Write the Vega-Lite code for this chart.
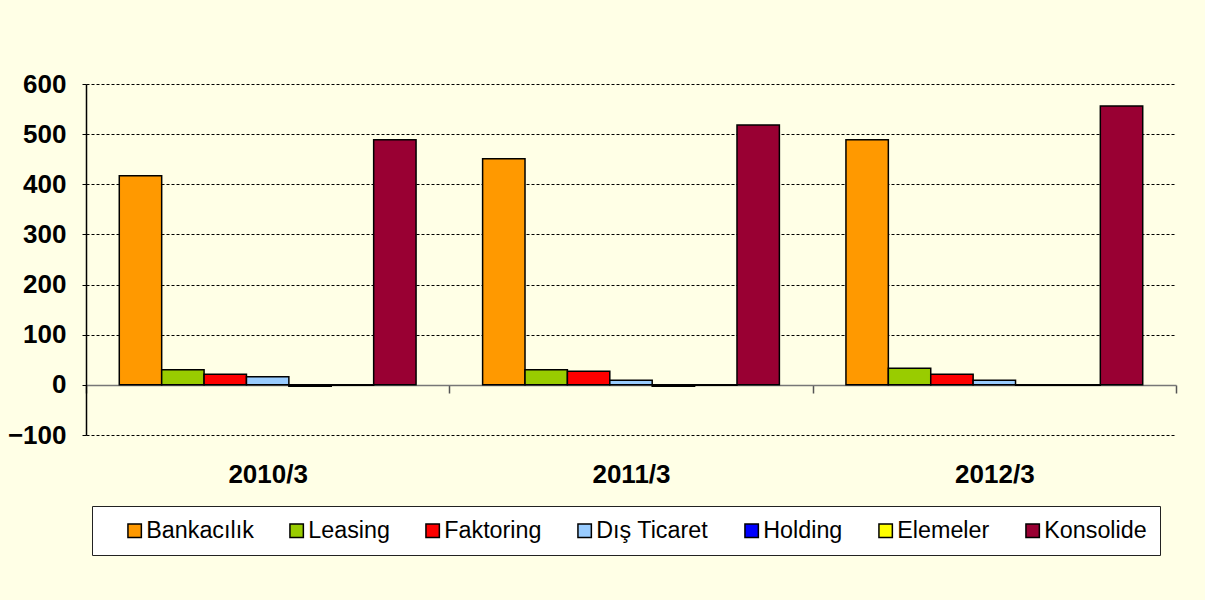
{
  "$schema": "https://vega.github.io/schema/vega-lite/v6.json",
  "width": 1090,
  "height": 351,
  "autosize": {"type": "none"},
  "padding": {"left": 86, "top": 84, "right": 29, "bottom": 165},
  "background": "#FFFFE6",
  "config": {
    "view": {"stroke": null},
    "font": "Liberation Sans"
  },
  "data": {
    "values": [
      {"period": "2010/3", "series": "Bankacılık", "value": 417},
      {"period": "2010/3", "series": "Leasing", "value": 30},
      {"period": "2010/3", "series": "Faktoring", "value": 21},
      {"period": "2010/3", "series": "Dış Ticaret", "value": 16},
      {"period": "2010/3", "series": "Holding", "value": -3},
      {"period": "2010/3", "series": "Elemeler", "value": -1},
      {"period": "2010/3", "series": "Konsolide", "value": 489},
      {"period": "2011/3", "series": "Bankacılık", "value": 451},
      {"period": "2011/3", "series": "Leasing", "value": 30},
      {"period": "2011/3", "series": "Faktoring", "value": 27},
      {"period": "2011/3", "series": "Dış Ticaret", "value": 9},
      {"period": "2011/3", "series": "Holding", "value": -3},
      {"period": "2011/3", "series": "Elemeler", "value": -1},
      {"period": "2011/3", "series": "Konsolide", "value": 518},
      {"period": "2012/3", "series": "Bankacılık", "value": 489},
      {"period": "2012/3", "series": "Leasing", "value": 33},
      {"period": "2012/3", "series": "Faktoring", "value": 21},
      {"period": "2012/3", "series": "Dış Ticaret", "value": 9},
      {"period": "2012/3", "series": "Holding", "value": -1},
      {"period": "2012/3", "series": "Elemeler", "value": -1},
      {"period": "2012/3", "series": "Konsolide", "value": 556}
    ]
  },
  "mark": {"type": "bar", "stroke": "black", "strokeWidth": 1.5},
  "encoding": {
    "x": {
      "field": "period",
      "type": "nominal",
      "scale": {"paddingInner": 0, "paddingOuter": 0},
      "axis": {
        "title": null,
        "labelAngle": 0,
        "labelFont": "Liberation Sans",
        "labelFontSize": 26,
        "labelFontWeight": "bold",
        "labelColor": "black",
        "labelPadding": 68,
        "offset": -50,
        "domain": true,
        "domainColor": "#777",
        "domainWidth": 1.5,
        "ticks": true,
        "tickBand": "extent",
        "tickColor": "#555",
        "tickWidth": 1.5,
        "tickSize": 8
      }
    },
    "xOffset": {
      "field": "series",
      "type": "nominal",
      "sort": ["Bankacılık", "Leasing", "Faktoring", "Dış Ticaret", "Holding", "Elemeler", "Konsolide"],
      "scale": {"paddingInner": 0, "paddingOuter": 0.785}
    },
    "y": {
      "field": "value",
      "type": "quantitative",
      "scale": {"domain": [-100, 600], "nice": false, "zero": false},
      "axis": {
        "title": null,
        "values": [-100, 0, 100, 200, 300, 400, 500, 600],
        "labelFont": "Liberation Sans",
        "labelFontSize": 26,
        "labelFontWeight": "bold",
        "labelColor": "black",
        "labelPadding": 16,
        "domain": true,
        "domainColor": "black",
        "domainWidth": 1.5,
        "ticks": true,
        "tickColor": "black",
        "tickSize": 4,
        "grid": true,
        "gridColor": "black",
        "gridDash": [3, 2],
        "gridWidth": 1,
        "gridOpacity": 1
      }
    },
    "color": {
      "field": "series",
      "type": "nominal",
      "sort": ["Bankacılık", "Leasing", "Faktoring", "Dış Ticaret", "Holding", "Elemeler", "Konsolide"],
      "scale": {
        "domain": ["Bankacılık", "Leasing", "Faktoring", "Dış Ticaret", "Holding", "Elemeler", "Konsolide"],
        "range": ["#FF9900", "#99CC00", "#FF0000", "#99CCFF", "#0000FF", "#FFFF00", "#990033"]
      },
      "legend": {
        "title": " ",
        "titleOrient": "left",
        "titleFontSize": 8,
        "titlePadding": 18,
        "orient": "none",
        "legendX": 6,
        "legendY": 422,
        "direction": "horizontal",
        "columns": 7,
        "fillColor": "white",
        "strokeColor": "#222",
        "padding": 13,
        "columnPadding": 31,
        "labelFont": "Liberation Sans",
        "labelFontSize": 23.3,
        "labelColor": "black",
        "labelOffset": 0,
        "labelLimit": 300,
        "symbolType": "square",
        "symbolSize": 180,
        "symbolStrokeColor": "black",
        "symbolStrokeWidth": 1.5,
        "symbolOpacity": 1
      }
    }
  }
}
